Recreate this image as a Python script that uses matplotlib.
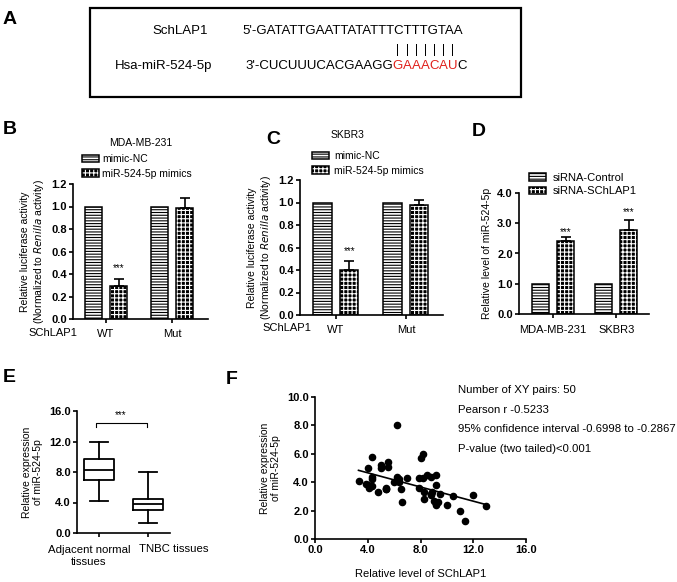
import numpy as np
import matplotlib
matplotlib.use("Agg")
import matplotlib.pyplot as plt
from matplotlib.patches import Patch, Rectangle

# --------------------------------------------------
# DATA
# --------------------------------------------------
bc_groups = ["WT", "Mut"]
b_nc = [1.0, 1.0]
b_mimic = [0.29, 0.99]
b_mimic_err = [0.07, 0.09]

c_nc = [1.0, 1.0]
c_mimic = [0.40, 0.98]
c_mimic_err = [0.08, 0.04]

d_groups = ["MDA-MB-231", "SKBR3"]
d_ctrl = [1.0, 1.0]
d_si = [2.42, 2.77]
d_si_err = [0.13, 0.35]

e_labels = ["Adjacent normal\ntissues", "TNBC tissues"]
e_med = [8.3, 3.8]
e_q1 = [6.9, 3.0]
e_q3 = [9.7, 4.4]
e_lo = [4.2, 1.3]
e_hi = [12.0, 8.0]

f_x = [3.3, 4.0, 3.9, 4.1, 4.3, 4.3, 4.3, 4.3, 4.8, 5.0,
       5.0, 5.4, 5.5, 5.5, 5.4, 6.0, 6.2, 6.2, 6.4, 6.5,
       6.6, 7.0, 7.9, 7.9, 8.0, 8.2, 8.2, 8.3, 8.3, 8.5,
       8.8, 8.8, 8.9, 9.0, 9.2, 9.2, 9.2, 9.3, 9.5, 10.0,
       10.5, 11.0, 11.4, 12.0, 13.0, 9.2, 8.8, 4.0, 6.4, 5.4]
f_y = [4.1, 5.0, 3.9, 3.6, 3.7, 5.8, 4.4, 4.2, 3.3, 5.2,
       5.0, 3.5, 5.4, 5.1, 3.6, 4.0, 4.4, 8.0, 4.0, 3.5,
       2.6, 4.3, 4.3, 3.6, 5.7, 6.0, 4.3, 3.3, 2.8, 4.5,
       4.4, 3.1, 3.3, 2.7, 4.5, 3.8, 2.4, 2.6, 3.2, 2.4,
       3.0, 2.0, 1.3, 3.1, 2.3, 2.5, 3.2, 3.8, 4.2, 3.5]

f_stats = ["Number of XY pairs: 50",
           "Pearson r -0.5233",
           "95% confidence interval -0.6998 to -0.2867",
           "P-value (two tailed)<0.001"]

# --------------------------------------------------
# STYLE
# --------------------------------------------------
plt.rcParams["font.family"] = ["Liberation Sans", "DejaVu Sans"]
plt.rcParams["hatch.linewidth"] = 0.8

W, H = 677, 582
fig = plt.figure(figsize=(W / 100, H / 100), dpi=100)

# overlay axes in pixel units for free text
ov = fig.add_axes([0, 0, 1, 1])
ov.set_xlim(0, W)
ov.set_ylim(H, 0)
ov.axis("off")


def add_ax(l, t, r, b):
    return fig.add_axes([l / W, 1 - b / H, (r - l) / W, (b - t) / H])


def style(ax):
    ax.patch.set_alpha(0)
    for s in ["top", "right"]:
        ax.spines[s].set_visible(False)
    for s in ["left", "bottom"]:
        ax.spines[s].set_linewidth(1.2)
    ax.tick_params(direction="out", length=3, width=1.2, labelsize=8, pad=1.5)
    plt.setp(ax.get_yticklabels(), fontweight="bold")


def letter(x, y, s):
    ov.text(x, y, s, fontsize=14, fontweight="bold", ha="left", va="center")


def stripe_handle():
    return (Patch(facecolor="white", edgecolor="black", hatch="------", lw=0),
            Patch(fill=False, edgecolor="black", lw=1.1))


def check_handle():
    return (Patch(facecolor="black", edgecolor="white", hatch="++++", lw=0),
            Patch(fill=False, edgecolor="black", lw=1.1))


def bar_panel(ax, groups, a, b, b_err, xlim, ymax, ystep, width, off, star_y):
    x = np.arange(len(groups))
    ax.bar(x - off, a, width, color="white", edgecolor="black", hatch="------", lw=0)
    ax.bar(x - off, a, width, fill=False, edgecolor="black", lw=1.1)
    ax.bar(x + off, b, width, color="black", edgecolor="white", hatch="++++", lw=0)
    ax.bar(x + off, b, width, fill=False, edgecolor="black", lw=1.1)
    ax.errorbar(x + off, b, yerr=[np.zeros(len(b)), b_err], fmt="none",
                ecolor="black", elinewidth=1.2, capsize=3.5, capthick=1.2)
    for xi, sy in zip(x, star_y):
        if sy is not None:
            ax.text(xi + off, sy, "***", ha="center", va="center", fontsize=7)
    ax.set_xlim(*xlim)
    ax.set_ylim(0, ymax)
    ax.set_yticks(np.arange(0, ymax + ystep / 2, ystep))
    ax.yaxis.set_major_formatter(matplotlib.ticker.FormatStrFormatter("%.1f"))
    ax.set_xticks(x)
    ax.set_xticklabels(groups, fontsize=8)
    style(ax)


# --------------------------------------------------
# PANEL A
# --------------------------------------------------
letter(3, 19, "A")
ov.add_patch(Rectangle((90, 8), 431, 89, fill=False, lw=1.6, edgecolor="black"))
ov.text(180, 31, "SchLAP1", fontsize=9.5, ha="center", va="center")
ov.text(164, 66, "Hsa-miR-524-5p", fontsize=9.5, ha="center", va="center")
ov.text(242, 31, "5'-GATATTGAATTATATTTCTTTGTAA", fontsize=9.5, ha="left", va="center")
t = ov.text(245, 66, "3'-CUCUUUCACGAAGG", fontsize=9.5, ha="left", va="center")
prev = t
for ch in "GAAACAU":
    prev = ov.annotate(ch, xy=(1, 0), xycoords=prev, ha="left", va="bottom",
                       fontsize=9.5, color="#e0201b")
    ov.annotate("|", xy=(0.5, 1), xycoords=prev, xytext=(0, 3),
                textcoords="offset points", ha="center", va="bottom", fontsize=8.5)
ov.annotate("C", xy=(1, 0), xycoords=prev, ha="left", va="bottom", fontsize=9.5)

# --------------------------------------------------
# PANEL B
# --------------------------------------------------
letter(3, 130, "B")
axb = add_ax(73, 184, 208, 319)
bar_panel(axb, bc_groups, b_nc, b_mimic, b_mimic_err, (-0.5, 1.545), 1.2, 0.2,
          0.26, 0.19, [0.45, None])
axb.set_title("MDA-MB-231", fontsize=7.5, pad=0, y=1.28)
axb.set_ylabel("Relative luciferase activity\n(Normalized to $\\it{Renilla}$ activity)",
               fontsize=7.5, labelpad=4)
axb.legend([stripe_handle(), check_handle()], ["mimic-NC", "miR-524-5p mimics"],
           loc="upper left", bbox_to_anchor=(82 / W, 1 - 154 / H),
           bbox_transform=fig.transFigure, frameon=False, fontsize=7.5,
           handlelength=1.6, handleheight=0.7, handletextpad=0.3,
           labelspacing=0.45, borderpad=0, borderaxespad=0)
axb.tick_params(axis="x", pad=4)
ov.text(28, 333, "SChLAP1", fontsize=8, ha="left", va="center")

# --------------------------------------------------
# PANEL C
# --------------------------------------------------
letter(266, 139, "C")
axc = add_ax(300, 180, 443, 315)
bar_panel(axc, bc_groups, c_nc, c_mimic, c_mimic_err, (-0.514, 1.53), 1.2, 0.2,
          0.264, 0.19, [0.57, None])
axc.set_ylabel("Relative luciferase activity\n(Normalized to $\\it{Renilla}$ activity)",
               fontsize=7.5, labelpad=4)
axc.legend([stripe_handle(), check_handle()], ["mimic-NC", "miR-524-5p mimics"],
           loc="upper left", bbox_to_anchor=(312 / W, 1 - 151 / H),
           bbox_transform=fig.transFigure, frameon=False, fontsize=7.5,
           handlelength=1.6, handleheight=0.7, handletextpad=0.5,
           labelspacing=0.45, borderpad=0, borderaxespad=0)
axc.tick_params(axis="x", pad=4)
ov.text(348, 135, "SKBR3", fontsize=7.5, ha="center", va="center")
ov.text(262, 328, "SChLAP1", fontsize=8, ha="left", va="center")

# --------------------------------------------------
# PANEL D
# --------------------------------------------------
letter(472, 132, "D")
axd = add_ax(519, 193, 649, 314)
bar_panel(axd, d_groups, d_ctrl, d_si, d_si_err, (-0.54, 1.52), 4.0, 1.0,
          0.265, 0.197, [2.72, 3.38])
axd.set_ylabel("Relative level of miR-524-5p", fontsize=7.5, labelpad=4)
axd.legend([stripe_handle(), check_handle()], ["siRNA-Control", "siRNA-SChLAP1"],
           loc="upper left", bbox_to_anchor=(529 / W, 1 - 173 / H),
           bbox_transform=fig.transFigure, frameon=False, fontsize=8,
           handlelength=1.5, handleheight=0.7, handletextpad=0.6,
           labelspacing=0.3, borderpad=0, borderaxespad=0)
axd.tick_params(axis="x", pad=5)

# --------------------------------------------------
# PANEL E
# --------------------------------------------------
letter(3, 378, "E")
axe = add_ax(77, 411, 170, 533)
stats = [dict(med=m, q1=a, q3=b, whislo=lo, whishi=hi, label="")
         for m, a, b, lo, hi in zip(e_med, e_q1, e_q3, e_lo, e_hi)]
lw = 1.3
axe.bxp(stats, positions=[1, 2], widths=0.62, showfliers=False, capwidths=0.36,
        boxprops=dict(lw=lw, color="black"), medianprops=dict(lw=lw, color="black"),
        whiskerprops=dict(lw=lw, color="black"), capprops=dict(lw=lw, color="black"))
axe.set_xlim(0.55, 2.45)
axe.set_ylim(0, 16)
axe.set_yticks(np.arange(0, 16.1, 4))
axe.yaxis.set_major_formatter(matplotlib.ticker.FormatStrFormatter("%.1f"))
axe.set_xticks([1, 2])
axe.set_xticklabels(["", ""])
style(axe)
axe.plot([0.93, 0.93, 1.97, 1.97], [13.9, 14.4, 14.4, 13.9], color="black", lw=0.8)
axe.text(1.45, 15.4, "***", ha="center", va="center", fontsize=7)
axe.set_ylabel("Relative expression\nof miR-524-5p", fontsize=7.5, labelpad=4)
ov.text(89, 556, e_labels[0], fontsize=8.2, ha="center", va="center", linespacing=1.25)
ov.text(174, 549, e_labels[1], fontsize=8.2, ha="center", va="center")

# --------------------------------------------------
# PANEL F
# --------------------------------------------------
letter(226, 379, "F")
axf = add_ax(315, 397, 526, 539)
axf.scatter(f_x, f_y, s=20, color="black", zorder=3)
coef = np.polyfit(f_x, f_y, 1)
xs = np.array([min(f_x), max(f_x)])
axf.plot(xs, np.polyval(coef, xs), color="black", lw=1.2)
axf.set_xlim(0, 16)
axf.set_ylim(0, 10)
axf.set_xticks(np.arange(0, 16.1, 4))
axf.set_yticks(np.arange(0, 10.1, 2))
axf.xaxis.set_major_formatter(matplotlib.ticker.FormatStrFormatter("%.1f"))
axf.yaxis.set_major_formatter(matplotlib.ticker.FormatStrFormatter("%.1f"))
style(axf)
plt.setp(axf.get_xticklabels(), fontweight="bold")
axf.set_ylabel("Relative expression\nof miR-524-5p", fontsize=7.5, labelpad=4)
axf.set_xlabel("Relative level of SChLAP1", fontsize=8, labelpad=10)
for i, s in enumerate(f_stats):
    ov.text(458, 390 + i * 19.7, s, fontsize=8.2, ha="left", va="center")

fig.savefig("out.png", dpi=100)
